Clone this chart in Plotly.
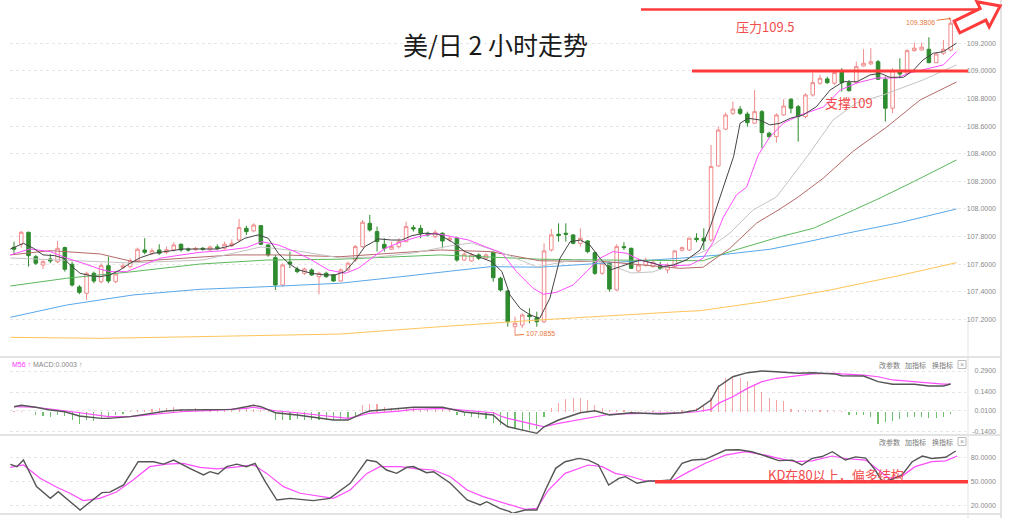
import math
import plotly.graph_objects as go

W, H = 1024, 518

# ---------------- data ----------------
idx = list(range(130))
opens = [107.722,107.744,107.831,107.654,107.594,107.638,107.618,107.720,107.599,107.435,
         107.389,107.534,107.473,107.589,107.473,107.575,107.582,107.623,107.703,107.676,
         107.703,107.686,107.703,107.744,107.710,107.705,107.715,107.703,107.725,107.715,
         107.734,107.775,107.860,107.841,107.879,107.739,107.647,107.449,107.616,107.565,
         107.534,107.558,107.509,107.534,107.522,107.478,107.558,107.630,107.727,107.896,
         107.836,107.744,107.708,107.727,107.763,107.865,107.860,107.824,107.799,107.824,
         107.775,107.788,107.630,107.623,107.667,107.643,107.686,107.498,107.406,107.147,
         107.159,107.232,107.212,107.183,107.703,107.817,107.824,107.812,107.751,107.768,
         107.683,107.534,107.607,107.413,107.727,107.715,107.551,107.594,107.582,107.589,
         107.558,107.582,107.701,107.703,107.788,107.788,107.775,108.312,108.578,108.693,
         108.723,108.688,108.621,108.705,108.549,108.524,108.681,108.795,108.741,108.669,
         108.826,108.911,108.942,108.911,108.988,108.915,108.915,109.036,109.051,109.067,
         108.940,108.730,108.995,108.983,109.147,109.152,109.157,109.060,109.128,109.152]
highs = [107.763,107.841,107.836,107.667,107.630,107.672,107.768,107.727,107.618,107.449,
         107.546,107.546,107.607,107.654,107.546,107.607,107.643,107.720,107.788,107.715,
         107.744,107.727,107.759,107.751,107.720,107.725,107.725,107.734,107.744,107.763,
         107.780,107.928,107.879,107.896,107.884,107.744,107.667,107.607,107.691,107.582,
         107.575,107.570,107.546,107.546,107.527,107.570,107.618,107.739,107.920,107.957,
         107.872,107.788,107.763,107.788,107.908,107.884,107.884,107.836,107.848,107.831,
         107.799,107.799,107.691,107.679,107.679,107.679,107.691,107.509,107.413,107.220,
         107.244,107.280,107.256,107.751,107.855,107.896,107.896,107.817,107.860,107.775,
         107.691,107.618,107.614,107.744,107.759,107.720,107.643,107.647,107.630,107.618,
         107.607,107.703,107.727,107.792,107.824,107.860,108.464,108.596,108.698,108.778,
         108.746,108.705,108.862,108.717,108.560,108.693,108.795,108.802,108.754,108.838,
         108.988,108.971,108.959,109.002,109.020,108.935,109.067,109.157,109.165,109.080,
         108.959,109.020,109.092,109.157,109.205,109.205,109.244,109.133,109.225,109.3806]
lows = [107.667,107.720,107.582,107.594,107.565,107.607,107.607,107.546,107.437,107.382,
        107.341,107.462,107.462,107.462,107.462,107.565,107.570,107.614,107.672,107.667,
        107.667,107.672,107.691,107.691,107.691,107.696,107.698,107.696,107.703,107.705,
        107.725,107.763,107.812,107.831,107.739,107.654,107.413,107.437,107.572,107.534,
        107.522,107.514,107.382,107.502,107.473,107.473,107.551,107.618,107.720,107.836,
        107.691,107.691,107.703,107.715,107.759,107.836,107.788,107.799,107.788,107.715,
        107.763,107.618,107.623,107.618,107.630,107.630,107.473,107.401,107.147,107.0855,
        107.136,107.172,107.147,107.172,107.691,107.763,107.763,107.744,107.727,107.679,
        107.522,107.522,107.401,107.406,107.703,107.565,107.546,107.582,107.575,107.558,
        107.534,107.575,107.691,107.696,107.759,107.703,107.761,108.307,108.572,108.681,
        108.681,108.596,108.616,108.440,108.512,108.480,108.674,108.693,108.488,108.657,
        108.814,108.899,108.906,108.899,108.850,108.850,108.911,109.031,109.044,108.935,
        108.633,108.693,108.947,108.971,109.140,109.147,109.056,109.056,109.116,109.140]
closes = [107.708,107.831,107.662,107.607,107.618,107.623,107.715,107.563,107.449,107.396,
          107.534,107.478,107.589,107.478,107.529,107.589,107.625,107.708,107.686,107.698,
          107.679,107.705,107.739,107.703,107.703,107.715,107.708,107.725,107.715,107.744,
          107.751,107.865,107.836,107.884,107.744,107.667,107.449,107.594,107.601,107.546,
          107.565,107.522,107.534,107.509,107.478,107.558,107.607,107.727,107.904,107.848,
          107.763,107.715,107.727,107.763,107.872,107.855,107.824,107.812,107.831,107.768,
          107.788,107.630,107.672,107.667,107.643,107.667,107.502,107.413,107.183,107.172,
          107.232,107.220,107.183,107.696,107.812,107.807,107.817,107.751,107.788,107.691,
          107.534,107.607,107.420,107.727,107.720,107.570,107.594,107.630,107.614,107.570,
          107.594,107.696,107.720,107.788,107.778,107.768,108.307,108.572,108.681,108.723,
          108.693,108.625,108.705,108.553,108.524,108.681,108.746,108.730,108.669,108.826,
          108.915,108.947,108.915,108.988,108.915,108.857,109.031,109.056,109.067,108.940,
          108.730,109.002,108.978,109.147,109.165,109.172,109.060,109.123,109.157,109.346]

MA5_X = [-0.5,0.8,1.3,2.7,4.0,5.6,6.8,8.0,9.1,10.5,11.8,13.2,14.6,16.0,17.4,19.2,21.0,23.3,25.6,28.0,
         30.2,31.8,33.6,35.0,36.4,37.8,39.2,41.0,42.8,44.2,45.6,47.0,48.3,50.2,52.0,53.4,54.8,56.6,58.4,60.3,
         62.1,64.0,65.8,67.2,68.3,69.7,71.1,72.4,73.8,75.2,76.6,78.0,79.3,80.7,82.1,83.5,84.8,86.2,88.1,89.4,
         90.8,92.6,94.5,95.9,97.1,99.1,100.0,101.1,102.7,104.1,105.5,106.9,108.7,110.5,112.4,114.2,116.1,117.9,119.3,120.6,
         122.5,123.9,125.2,126.6,128.0,129.8]
MA5 = [107.710,107.739,107.751,107.715,107.667,107.662,107.643,107.582,107.534,107.517,
       107.509,107.522,107.558,107.607,107.647,107.679,107.691,107.710,107.710,107.710,
       107.739,107.788,107.812,107.788,107.679,107.607,107.558,107.534,107.522,107.522,
       107.546,107.630,107.727,107.783,107.775,107.775,107.807,107.824,107.817,107.763,
       107.691,107.654,107.618,107.546,107.377,107.280,107.232,107.208,107.353,107.643,
       107.763,107.775,107.739,107.643,107.558,107.582,107.607,107.630,107.607,107.582,
       107.594,107.630,107.703,107.872,108.065,108.379,108.621,108.657,108.645,108.609,
       108.621,108.657,108.681,108.741,108.862,108.922,108.922,108.971,108.983,108.954,
       108.954,109.007,109.080,109.128,109.140,109.201]
MA10_X = [-0.5,2.2,5.0,7.3,9.5,11.8,13.2,15.5,17.8,20.1,22.4,25.6,28.4,32.0,34.1,36.4,38.7,41.0,43.3,45.6,
          47.4,49.3,51.1,53.4,55.7,58.0,60.3,62.6,64.9,67.2,69.2,71.5,72.9,74.7,77.0,79.3,80.7,82.5,84.4,86.2,
          88.5,90.8,93.1,94.9,96.3,97.7,99.5,100.9,102.5,104.1,106.0,108.3,111.5,113.8,116.1,118.8,121.6,123.4,125.2,128.0,
          129.8]
MA10 = [107.667,107.710,107.691,107.643,107.607,107.565,107.546,107.546,107.594,107.643,
        107.662,107.686,107.696,107.720,107.763,107.739,107.691,107.630,107.558,107.534,
        107.570,107.643,107.715,107.763,107.799,107.824,107.799,107.775,107.727,107.681,
        107.546,107.425,107.382,107.396,107.449,107.570,107.643,107.691,107.679,107.630,
        107.599,107.589,107.594,107.643,107.761,107.942,108.102,108.159,108.391,108.522,
        108.623,108.681,108.739,108.862,108.913,108.949,108.949,108.986,109.007,109.044,
        109.140]
MA20_X = [-0.5,7,16,26,34,39,45,50,55,60,63,68,72,77,81,85,88,91.7,95.4,98.6,
          101.8,105,109.2,112.8,116,119.7,122.5,125.2,129.8]
MA20 = [107.645,107.630,107.609,107.630,107.725,107.696,107.645,107.652,107.681,107.732,
        107.754,107.667,107.580,107.630,107.616,107.536,107.544,107.616,107.703,107.826,
        107.993,108.087,108.377,108.645,108.768,108.826,108.884,108.935,109.044]
MA30_X = [-0.5,5,11.9,16.4,23.3,30.2,37,44.9,58.7,65.6,72.4,81.6,91.7,94.9,98.6,102.3,105.5,108,111.5,115.6,
          120.2,124.8,129.8]
MA30 = [107.667,107.698,107.674,107.618,107.643,107.667,107.667,107.654,107.703,107.691,
        107.625,107.618,107.570,107.578,107.715,107.899,108.000,108.087,108.225,108.420,
        108.594,108.790,108.920]
MA60_X = [-0.5,7.25,16.4,25.6,34.8,44.9,58.7,72.4,81.6,91.7,94.9,98.6,105.5,110.1,119.3,123.9,129.8]
MA60 = [107.442,107.498,107.546,107.601,107.630,107.636,107.667,107.636,107.630,107.630,
        107.625,107.691,107.799,107.860,108.080,108.198,108.355]
MA120_X = [-0.5,7.25,16.4,25.6,34.8,44.9,54.1,65.6,72.4,81.6,91.7,97.2,104.1,108.7,114.7,122,129.8]
MA120 = [107.215,107.304,107.377,107.418,107.437,107.462,107.514,107.582,107.578,107.607,
         107.643,107.667,107.708,107.756,107.824,107.901,108.000]
MA250_X = [-0.5,11.9,25.6,44.9,58.7,72.4,91.7,94.5,103.2,112.4,121.6,129.8]
MA250 = [107.070,107.063,107.075,107.094,107.147,107.196,107.256,107.263,107.328,107.413,107.514,107.611]

MACD_HIST = [0.002,0.005,0.0,-0.021,-0.033,-0.038,-0.021,-0.031,-0.062,-0.086,
             -0.057,-0.069,-0.05,-0.05,-0.026,-0.014,0.003,0.010,0.014,0.021,
             0.026,0.026,0.031,0.021,0.021,0.024,0.021,0.021,0.010,0.014,
             0.014,0.026,0.026,0.021,0.010,0.005,-0.062,-0.062,-0.062,-0.055,
             -0.062,-0.062,-0.062,-0.062,-0.062,-0.055,-0.05,-0.038,0.045,0.057,
             0.052,0.033,0.026,0.021,0.026,0.026,0.021,0.021,0.021,0.017,
             0.010,-0.021,-0.033,-0.038,-0.045,-0.055,-0.079,-0.098,-0.11,-0.121,
             -0.133,-0.133,-0.121,-0.038,0.026,0.064,0.088,0.098,0.098,0.081,
             0.045,0.026,0.010,0.012,0.012,0.003,0.003,0.003,0.003,0.002,
             0.002,0.005,0.010,0.014,0.026,0.045,0.098,0.190,0.238,0.250,
             0.243,0.221,0.195,0.143,0.098,0.081,0.074,0.021,0.014,0.014,
             0.014,0.014,0.010,0.005,0.002,-0.024,-0.024,-0.024,-0.038,-0.086,
             -0.076,-0.067,-0.052,-0.038,-0.038,-0.038,-0.045,-0.045,-0.038,-0.014]
DIF_X = [0,1,3,5,7,9,12,13,16,19,21,23,28,30,32,33,34,36,39,44,46,48,49,53,55,59,62,66,67,68,
         72,73,75,78,80,82,85,89,92,94,96,97,99,101,103,105,108,110,113,114,117,119,121,124,126,128,129]
DIF = [0.035,0.045,0.031,0.011,-0.001,-0.031,-0.048,-0.048,-0.036,-0.012,
       0.004,0.011,0.011,0.016,0.035,0.045,0.035,-0.008,-0.024,-0.06,
       -0.06,-0.012,0.004,0.019,0.031,0.031,-0.003,-0.024,-0.072,-0.108,
       -0.155,-0.108,-0.06,-0.008,0.006,-0.024,-0.008,-0.017,-0.008,0.011,
       0.083,0.178,0.249,0.278,0.29,0.285,0.274,0.278,0.269,0.256,
       0.254,0.214,0.195,0.195,0.183,0.183,0.197]
DEA_X = [0,3,7,9,12,13,16,19,21,23,28,30,32,33,34,36,39,44,46,48,49,53,55,59,62,66,67,68,72,73,
         75,78,80,82,85,89,92,94,96,97,99,101,103,105,108,110,113,114,117,119,121,124,126,128,129]
DEA = [0.035,0.031,0.006,-0.008,-0.024,-0.036,-0.036,-0.019,-0.008,-0.001,
       0.011,0.016,0.023,0.031,0.023,0.006,-0.008,-0.036,-0.048,-0.024,
       -0.012,0.004,0.016,0.023,0.011,-0.008,-0.031,-0.048,-0.096,-0.108,
       -0.084,-0.055,-0.036,-0.019,-0.015,-0.012,-0.008,-0.001,0.016,0.059,
       0.106,0.166,0.214,0.238,0.254,0.269,0.274,0.269,0.261,0.249,
       0.226,0.214,0.202,0.197,0.197]
K_X = [-0.5,0.4,1.3,3.1,5.0,6.1,9.1,10.5,12.1,13.2,15.1,17.1,19.2,20.6,22.0,24.2,26.1,27.0,28.1,29.3,
       30.7,32.0,33.2,34.6,36.2,38.0,41.2,43.5,46.3,48.6,49.9,51.3,52.7,54.1,55.0,56.8,57.8,60.1,62.4,64.2,
       65.1,66.9,68.3,68.6,70.4,72.0,73.2,74.6,75.9,77.8,79.1,80.5,81.9,83.3,84.2,85.8,87.4,88.8,90.4,92.0,
       93.4,95.2,98.0,99.8,101.6,103.5,105.3,107.2,108.5,109.9,111.3,112.7,114.5,115.9,117.3,118.6,119.6,120.9,122.3,123.7,
       125.1,126.4,128.3,129.7]
K = [71.7,68.8,77.1,43.8,29.2,37.5,14.6,25,36.3,37,45.9,75,75,72,77.1,66.8,58.4,62.5,59.6,68.8,
     72,68.8,73,50,27.1,29.2,26.3,29.2,48,77.1,75,64.6,60.5,68,69,61.3,62.5,48,27.1,20.9,
     25,16.7,12.5,10.4,14.6,14.6,40,66.7,75,79.2,77,70.9,45.9,54.2,56.3,48,50.9,50.9,52.1,73,
     77.1,78,89.6,90,87.5,82.1,76.3,77,70.9,79.2,81.5,87.5,77.1,81,79.5,64.6,50,53,58.4,75,
     82.1,79,80.5,88.4]
D_X = [-0.5,1.3,3.6,5.9,7.7,9.55,11.8,14.1,16.4,18.7,21.0,23.3,25.6,27.9,30.2,33.0,34.8,37.1,39.4,42.2,
       44.0,46.3,48.6,50.4,53.2,55.5,57.8,60.1,62.4,64.6,66.9,68.3,70.4,72.0,73.6,75.9,79.1,81.0,82.8,84.7,
       87.0,88.3,90.2,92.5,95.2,98.0,100.7,103.5,105.3,107.6,109.9,112.7,114.5,117.3,119.1,120.5,122.3,124.1,126.4,128.3,
       129.9]
D = [68,70.9,54.2,43,35.5,26.3,29.2,37,52.1,68.8,72,73,68,66,68,71,60.4,43.8,35.5,31.3,
     29.2,39.6,60.4,68.8,68.8,66,64.6,56.3,39.6,31.3,25,20.8,15.4,16.7,39.6,60.4,70.9,68.8,60.4,57.1,
     50.9,50.9,48.8,60.4,73,83.3,87.5,83.3,79.2,75,76,82.1,79,77.1,64.6,54.2,57,68.8,75,76,
     82.1]

MAIN_TICKS = [109.2, 109.0, 108.8, 108.6, 108.4, 108.2, 108.0, 107.8, 107.6, 107.4, 107.2]
MACD_TICKS = [0.29, 0.14, 0.01, -0.14]
KD_TICKS = [80, 50, 20]

TITLE = "美/日 2 小时走势"
RESIST_TEXT = "压力109.5"
SUPPORT_TEXT = "支撑109"
SUPPORT_LEVEL = 109.0
KD_TEXT = "KD在80以上，偏多结构"
KD_LEVEL = 50
HIGH_LABEL = "109.3806"
LOW_LABEL = "107.0855"
TOOLS = ["改参数", "加指标", "换指标"]

# ---------------- styles ----------------
UP = "#f08a8a"
DN = "#2e8b2e"
RED = "#ff3b3b"
RED_TXT = "#f24c4c"
ORANGE_TXT = "#e8783c"
GRID = "#e6e6e6"
TICKC = "#8a8a8a"


def px(x):
    return x / W


def py(y):
    return 1 - y / H


fig = go.Figure()

fig.add_trace(go.Candlestick(
    x=idx, open=opens, high=highs, low=lows, close=closes,
    xaxis="x", yaxis="y", whiskerwidth=0,
    increasing=dict(line=dict(color=UP, width=1), fillcolor="white"),
    decreasing=dict(line=dict(color=DN, width=1), fillcolor=DN),
    showlegend=False, hoverinfo="skip"))

ma_specs = [
    (MA250_X, MA250, "#ffc55a"),
    (MA120_X, MA120, "#5aa8ea"),
    (MA60_X, MA60, "#5cb85c"),
    (MA30_X, MA30, "#b56a6a"),
    (MA20_X, MA20, "#c4c4c4"),
    (MA10_X, MA10, "#ff4dff"),
    (MA5_X, MA5, "#444444"),
]
for xs, ys, col in ma_specs:
    fig.add_trace(go.Scatter(x=xs, y=ys, mode="lines", line=dict(color=col, width=1),
                             xaxis="x", yaxis="y", showlegend=False, hoverinfo="skip"))

# MACD panel
fig.add_trace(go.Bar(x=idx, y=MACD_HIST, width=0.16,
                     marker=dict(color=["#f5a3a3" if v >= 0 else "#6fbf6f" for v in MACD_HIST],
                                 line=dict(width=0)),
                     xaxis="x2", yaxis="y2", showlegend=False, hoverinfo="skip"))
fig.add_trace(go.Scatter(x=DEA_X, y=DEA, mode="lines", line=dict(color="#ff4dff", width=1.2),
                         xaxis="x2", yaxis="y2", showlegend=False, hoverinfo="skip"))
fig.add_trace(go.Scatter(x=DIF_X, y=DIF, mode="lines", line=dict(color="#555555", width=1.4),
                         xaxis="x2", yaxis="y2", showlegend=False, hoverinfo="skip"))

# KD panel
fig.add_trace(go.Scatter(x=D_X, y=D, mode="lines", line=dict(color="#ff4dff", width=1.2),
                         xaxis="x3", yaxis="y3", showlegend=False, hoverinfo="skip"))
fig.add_trace(go.Scatter(x=K_X, y=K, mode="lines", line=dict(color="#555555", width=1.4),
                         xaxis="x3", yaxis="y3", showlegend=False, hoverinfo="skip"))

# ---------------- axes ----------------
XDOM = [px(10), px(966)]
XR = [-0.551, 131.11]
xcommon = dict(domain=XDOM, range=XR, showgrid=False, zeroline=False, showticklabels=False,
               showline=False, ticks="", fixedrange=True)
ycommon = dict(side="right", anchor="free", position=px(999), ticklabelposition="inside",
               showgrid=True, gridcolor=GRID, griddash="dot", gridwidth=1, zeroline=False,
               showline=False, ticks="", tickfont=dict(family="Liberation Sans", size=7, color=TICKC))

fig.update_layout(
    width=W, height=H, margin=dict(l=0, r=0, t=0, b=0),
    paper_bgcolor="white", plot_bgcolor="white",
    font=dict(family="Noto Sans CJK SC"),
    showlegend=False,
    xaxis=dict(anchor="y", rangeslider=dict(visible=False), **xcommon),
    xaxis2=dict(anchor="y2", **xcommon),
    xaxis3=dict(anchor="y3", **xcommon),
    yaxis=dict(domain=[py(355), py(0)], range=[106.942, 109.514], tickvals=MAIN_TICKS,
               ticktext=[f"{v:.4f}" for v in MAIN_TICKS], **ycommon),
    yaxis2=dict(domain=[py(435), py(357)], range=[-0.167, 0.39], tickvals=MACD_TICKS,
                ticktext=[f"{v:.4f}" for v in MACD_TICKS], **ycommon),
    yaxis3=dict(domain=[py(514), py(437)], range=[9.6, 105.9], tickvals=KD_TICKS,
                ticktext=[f"{v:.4f}" for v in KD_TICKS], **ycommon),
    bargap=0,
)

shapes = []
# panel separators and borders
for yy in (357, 435, 514):
    shapes.append(dict(type="line", xref="paper", yref="paper", x0=0, x1=px(1001), y0=py(yy), y1=py(yy),
                       line=dict(color="#e3e3e3", width=2)))
shapes.append(dict(type="line", xref="paper", yref="paper", x0=px(1001), x1=px(1001), y0=0, y1=1,
                   line=dict(color="#dadada", width=1.5)))
shapes.append(dict(type="line", xref="paper", yref="paper", x0=px(968), x1=px(968), y0=0, y1=py(322),
                   line=dict(color="#e3e3e3", width=1)))
# resistance / support lines
shapes.append(dict(type="line", xref="paper", yref="paper", x0=px(641), x1=px(978), y0=py(9.5), y1=py(9.5),
                   line=dict(color=RED, width=2.5)))
shapes.append(dict(type="line", xref="paper", yref="y", x0=px(692), x1=px(968), y0=SUPPORT_LEVEL,
                   y1=SUPPORT_LEVEL, line=dict(color=RED, width=3)))
shapes.append(dict(type="line", xref="paper", yref="y3", x0=px(655), x1=px(968), y0=KD_LEVEL,
                   y1=KD_LEVEL, line=dict(color=RED, width=3.5)))

# hollow block arrow (top right)
tx, ty = 957.0, 27.0
ang = math.radians(-26)
dx, dy = math.cos(ang), math.sin(ang)
nx, ny = -dy, dx
L, hl, sw, hw = 48.0, 19.0, 6.5, 14.0
local = [(0, -sw), (L - hl, -sw), (L - hl, -hw), (L, 0), (L - hl, hw), (L - hl, sw), (0, sw)]
pts = [(tx + u * dx + v * nx, ty + u * dy + v * ny) for u, v in local]
path = "M " + " L ".join(f"{px(a):.5f},{py(b):.5f}" for a, b in pts) + " Z"
shapes.append(dict(type="path", xref="paper", yref="paper", path=path,
                   line=dict(color=RED, width=3), fillcolor="rgba(0,0,0,0)"))

# small close box icons in the indicator toolbars
for yy in (364.5, 441.5):
    shapes.append(dict(type="rect", xref="paper", yref="paper", x0=px(958), x1=px(966),
                       y0=py(yy + 4), y1=py(yy - 4), line=dict(color="#bbbbbb", width=1)))
fig.update_layout(shapes=shapes)

ann = []
ann.append(dict(xref="paper", yref="paper", x=px(495), y=py(43.5), text=TITLE, showarrow=False,
                font=dict(family="Noto Sans CJK SC", size=25, color="#1a1a1a"),
                xanchor="center", yanchor="middle"))
ann.append(dict(xref="paper", yref="paper", x=px(765), y=py(26), text=RESIST_TEXT, showarrow=False,
                font=dict(size=13, color=RED_TXT), xanchor="center", yanchor="middle"))
ann.append(dict(xref="paper", yref="paper", x=px(849), y=py(103), text=SUPPORT_TEXT, showarrow=False,
                font=dict(size=13, color=RED_TXT), xanchor="center", yanchor="middle"))
ann.append(dict(xref="paper", yref="paper", x=px(836), y=py(474), text=KD_TEXT, showarrow=False,
                font=dict(size=13, color=RED_TXT), xanchor="center", yanchor="middle"))
ann.append(dict(xref="x", yref="y", x=129, y=highs[129], text=HIGH_LABEL, showarrow=True,
                arrowhead=1, arrowsize=0.6, arrowwidth=1, arrowcolor=ORANGE_TXT, ax=-30, ay=4,
                font=dict(family="Liberation Sans", size=7, color=ORANGE_TXT)))
ann.append(dict(xref="x", yref="y", x=69, y=lows[69], text=LOW_LABEL, showarrow=True,
                arrowhead=0, arrowwidth=1, arrowcolor=ORANGE_TXT, ax=25, ay=-2,
                font=dict(family="Liberation Sans", size=7, color=ORANGE_TXT)))
ann.append(dict(xref="paper", yref="paper", x=px(10), y=py(364), xanchor="left", yanchor="middle",
                text="<span style='color:#ff33ff'>M56 ↑</span> MACD:0.0003 ↑", showarrow=False,
                font=dict(family="Liberation Sans", size=7, color="#888888")))
for yy in (364.5, 441.5):
    for cx, t in zip((889, 915.5, 942.5), TOOLS):
        ann.append(dict(xref="paper", yref="paper", x=px(cx), y=py(yy), text=t, showarrow=False,
                        xanchor="center", yanchor="middle",
                        font=dict(family="Noto Sans CJK SC", size=7, color="#777777")))
    ann.append(dict(xref="paper", yref="paper", x=px(962), y=py(yy), text="×", showarrow=False,
                    xanchor="center", yanchor="middle",
                    font=dict(family="Liberation Sans", size=7, color="#999999")))
fig.update_layout(annotations=ann)

fig.write_html("out.html", config={"displayModeBar": False, "staticPlot": True},
               post_script="document.body.style.margin='0';document.body.style.padding='0';")
